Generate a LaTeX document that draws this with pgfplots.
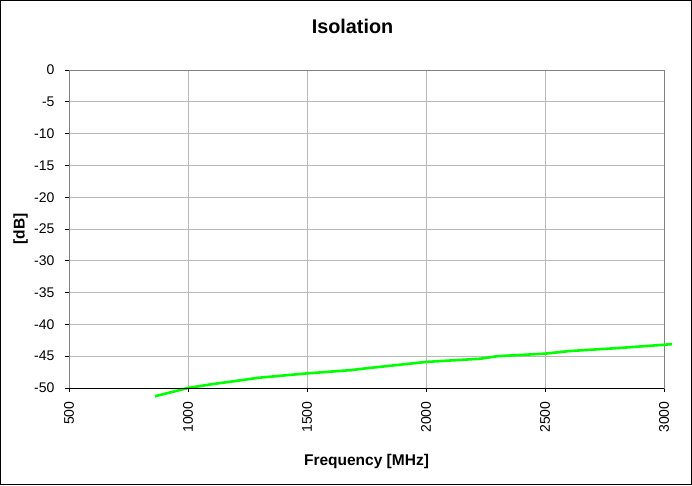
\documentclass[border=0pt]{standalone}
\usepackage{pgfplots}
\pgfplotsset{compat=1.18}
\usepackage{fontspec}
\setmainfont{Liberation Sans}
\definecolor{lgreen}{RGB}{0,255,0}
\begin{document}
\begin{tikzpicture}[x=1pt,y=1pt]
\path[use as bounding box] (0,0) rectangle (692,485);
\draw[line width=1.3pt] (0.65,0.65) rectangle (691.35,484.35);
\begin{axis}[at={(69pt,97pt)}, anchor=south west, scale only axis,
  width=595pt, height=318pt,
  xmin=500, xmax=3000, ymin=-50, ymax=0,
  xtick={500,1000,...,3000}, ytick={-50,-45,...,0},
  grid=major, major grid style={draw=black!28, line width=0.8pt},
  axis line style={draw=black!50, line width=0.9pt},
  tick style={draw=black, line width=0.8pt},
  xtick pos=bottom, ytick pos=left, tick align=outside, major tick length=4pt,
  clip=false,
  /pgf/number format/assume math mode=true,
  scaled ticks=false,
  xticklabel style={rotate=90, anchor=east, yshift=0pt, xshift=-6pt, font=\fontsize{14}{16}\selectfont, /pgf/number format/1000 sep={}},
  yticklabel style={xshift=-7pt, font=\fontsize{14}{16}\selectfont},
  title={Isolation},
  title style={at={(axis description cs:0.5,1)}, anchor=base, xshift=-14pt, yshift=31pt, font=\fontsize{19.8}{22}\selectfont\bfseries},
  xlabel={Frequency [MHz]},
  xlabel style={at={(axis description cs:0.5,0)}, anchor=base, yshift=-77pt, font=\fontsize{15.5}{18}\selectfont\bfseries},
  ylabel={[dB]},
  ylabel style={at={(axis description cs:-0.0815,0.5)}, anchor=center, font=\fontsize{15.5}{18}\selectfont\bfseries},
]
\addplot[lgreen, line width=2.6pt, no markers] coordinates {
(861,-51.3) (1000,-50.0) (1100,-49.4) (1200,-48.9) (1294,-48.4) (1500,-47.7)
(1681,-47.2) (1750,-46.9) (2000,-45.9) (2227,-45.4) (2300,-45.0) (2500,-44.6)
(2600,-44.2) (2815,-43.7) (3000,-43.2) (3034,-43.1)
};
\draw[black, line width=0.9pt] (rel axis cs:0,0) -- (rel axis cs:1,0);
\end{axis}
\end{tikzpicture}
\end{document}
